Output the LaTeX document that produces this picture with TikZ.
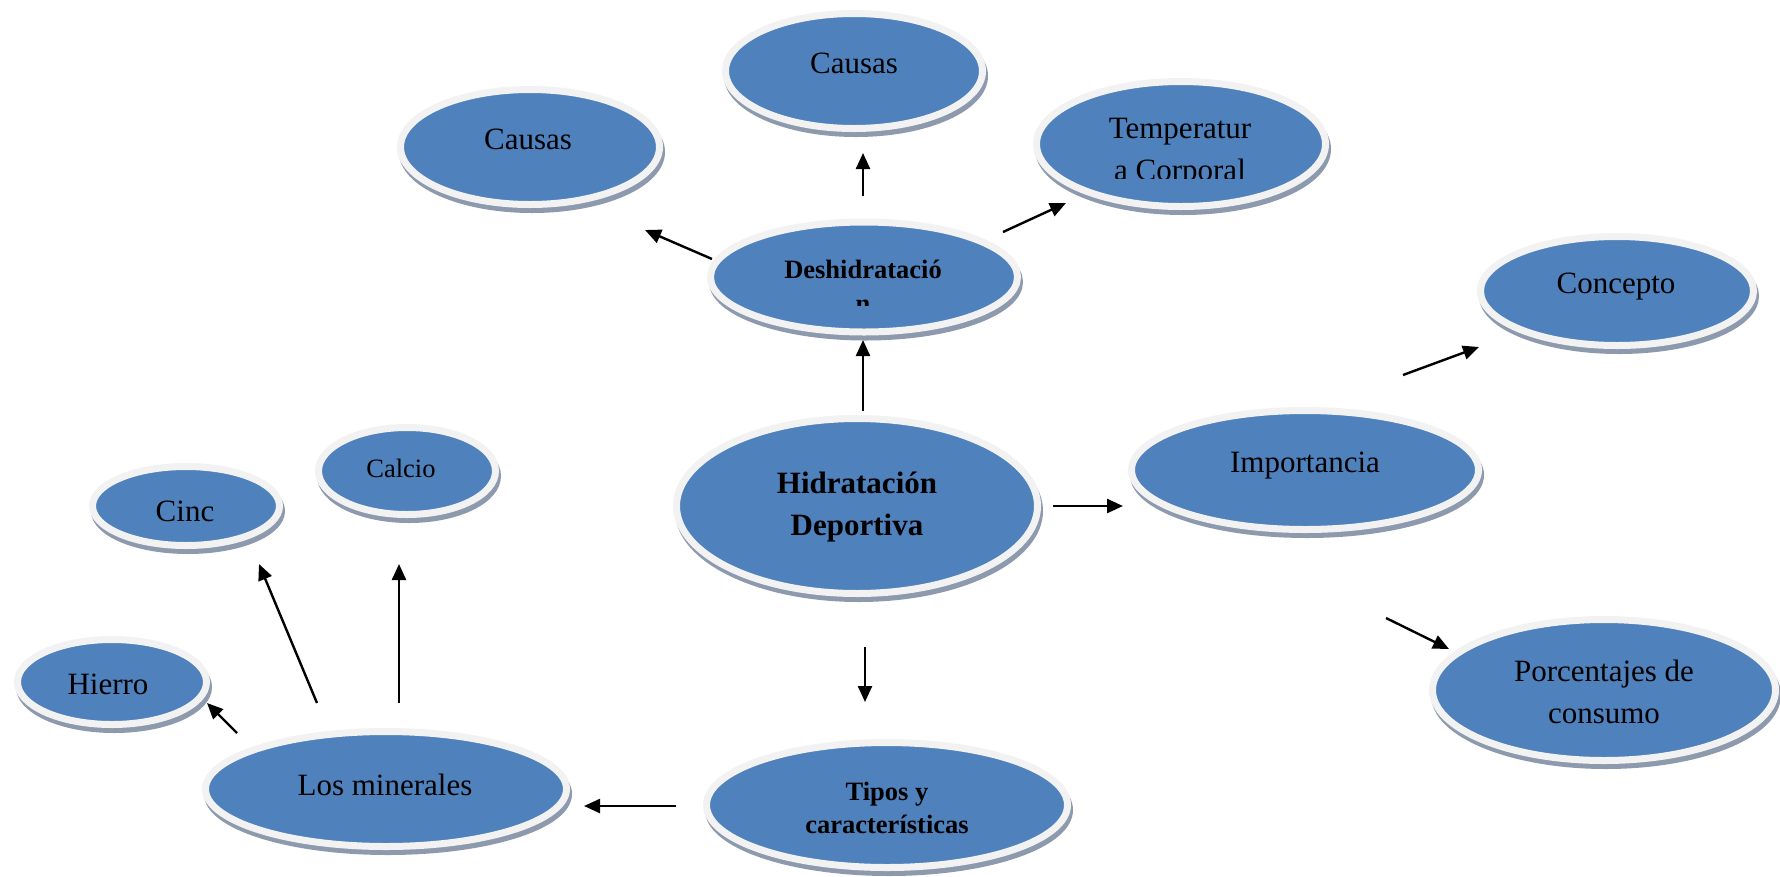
\documentclass[tikz,border=0pt]{standalone}
\usepackage{fontspec}
\setmainfont{Liberation Serif}
\usetikzlibrary{shapes.geometric,arrows.meta}
\definecolor{bblue}{HTML}{4F81BD}
\definecolor{ringc}{HTML}{F2F2F2}
\definecolor{shadc}{HTML}{8D9AAD}
\begin{document}
\begin{tikzpicture}[x=1pt,y=-1pt,
  bubble/.style={ellipse, inner sep=0pt, fill=bblue, draw=ringc, line width=7pt,
    preaction={draw=shadc, fill=shadc, line width=7pt, transform canvas={xshift=2pt,yshift=-5pt}}},
  esize/.style 2 args={minimum width=#1pt, minimum height=#2pt},
  lbl/.style={anchor=base, align=center, inner sep=0pt, font=\fontsize{31}{42}\selectfont},
  slbl/.style={anchor=base, align=center, inner sep=0pt, font=\fontsize{26.5}{33}\selectfont},
  blbl/.style={anchor=base, align=center, inner sep=0pt, font=\fontsize{31}{42}\selectfont\bfseries},
  sblbl/.style={anchor=base, align=center, inner sep=0pt, font=\fontsize{26.5}{33}\selectfont\bfseries},
  arr/.style={line width=2.4pt, -{Triangle[length=16pt,width=14pt]}}]
\useasboundingbox (0,0) rectangle (1780,876);
\fill[white] (0,0) rectangle (1780,876);

% ellipses
\node[bubble, esize={257}{115}] (causasT) at (854,71) {};
\node[bubble, esize={259}{115}] (causasL) at (530,147) {};
\node[bubble, esize={289}{125}] (temp) at (1181,144) {};
\node[bubble, esize={307}{110}] (deshid) at (864,277) {};
\node[bubble, esize={273}{109}] (concepto) at (1617,291) {};
\node[bubble, esize={347}{119}] (importancia) at (1305,470) {};
\node[bubble, esize={343}{141}] (porcent) at (1604,690) {};
\node[bubble, esize={361}{175}] (hid) at (857,506) {};
\node[bubble, esize={177}{87}] (calcio) at (407,471) {};
\node[bubble, esize={187}{79}] (cinc) at (186,506) {};
\node[bubble, esize={189}{85}] (hierro) at (112,682) {};
\node[bubble, esize={361}{115}] (minerales) at (386,789) {};
\node[bubble, esize={361}{125}] (tipos) at (887,805) {};

% texts
\node[lbl] (tcausasT) at (854,73) {Causas};
\node[lbl] (tcausasL) at (528,149) {Causas};
\begin{scope}
  \clip (1030,90) rectangle (1330,178);
  \node[lbl] (ttemp1) at (1180,138) {Temperatur};
  \node[lbl] (ttemp2) at (1180,180) {a Corporal};
\end{scope}
\begin{scope}
  \clip (710,240) rectangle (1020,305);
  \node[sblbl] (tdeshid1) at (863,278) {Deshidratació};
  \node[sblbl] (tdeshid2) at (863,312) {n};
\end{scope}
\node[lbl] (tconcepto) at (1616,293) {Concepto};
\node[lbl] (timportancia) at (1305,472) {Importancia};
\node[lbl] (tporcent) at (1604,723) {Porcentajes de\\consumo};
\node[blbl] (thid) at (857,535) {Hidratación\\Deportiva};
\node[slbl] (tcalcio) at (401,477) {Calcio};
\node[lbl] (tcinc) at (185,521) {Cinc};
\node[lbl] (thierro) at (108,694) {Hierro};
\node[lbl] (tminerales) at (385,795) {Los minerales};
\node[sblbl] (ttipos) at (887,833) {Tipos y\\características};

% arrow end points
\coordinate (a1s) at (863,411); \coordinate (a1e) at (863,340);
\coordinate (a2s) at (863,196); \coordinate (a2e) at (863,153);
\coordinate (a3s) at (712,259); \coordinate (a3e) at (645,230);
\coordinate (a4s) at (1003,232); \coordinate (a4e) at (1066,203);
\coordinate (a5s) at (1053,506); \coordinate (a5e) at (1123,506);
\coordinate (a6s) at (1403,375); \coordinate (a6e) at (1479,347);
\coordinate (a7s) at (1386,618); \coordinate (a7e) at (1449,649);
\coordinate (a8s) at (865,647); \coordinate (a8e) at (865,702);
\coordinate (a9s) at (676,806); \coordinate (a9e) at (584,806);
\coordinate (a10s) at (237,733); \coordinate (a10e) at (207,703);
\coordinate (a11s) at (317,703); \coordinate (a11e) at (259,564);
\coordinate (a12s) at (399,703); \coordinate (a12e) at (399,564);

\foreach \i in {1,...,12} {\draw[arr] (a\i s) -- (a\i e);}
\end{tikzpicture}
\end{document}
